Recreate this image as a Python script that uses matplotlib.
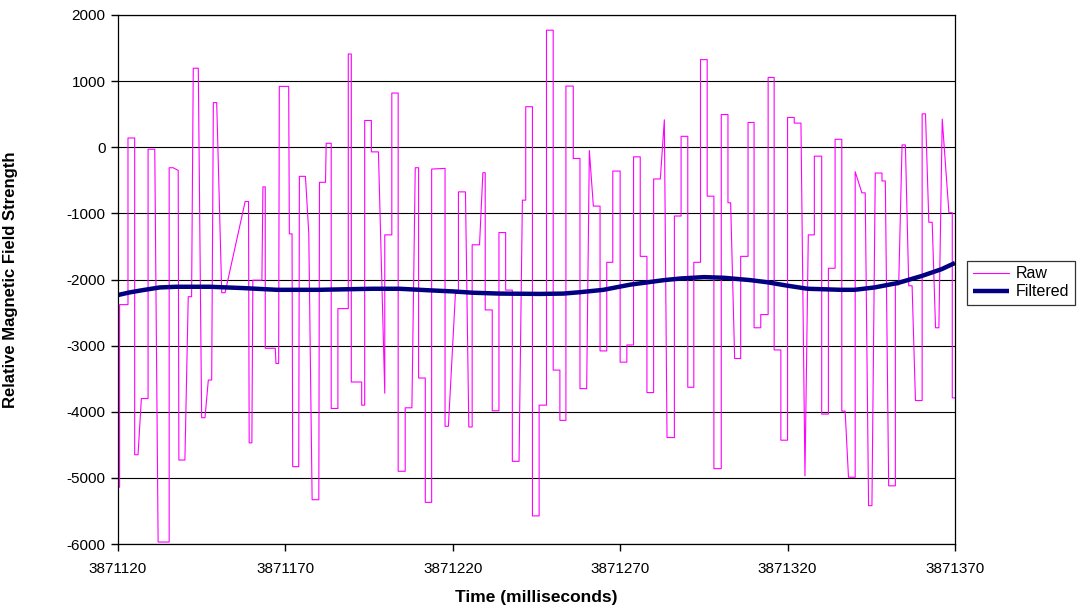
import matplotlib
matplotlib.use("Agg")
import matplotlib.pyplot as plt
from matplotlib.ticker import FuncFormatter

plt.rcParams["font.family"] = ["Liberation Sans", "DejaVu Sans"]
plt.rcParams["axes.unicode_minus"] = False

t0 = 3871120

# raw signal vertices: (time offset in ms, value)
raw_t = [0, 0.5, 0.5, 3, 3, 5, 5, 6, 7, 9, 9, 11, 12, 15.3, 15.3, 16.5, 18, 18.2, 20, 21,
         22, 22.5, 24, 25, 26, 27, 28, 28.5, 29.5, 31, 32, 38, 39, 39.2, 40, 40.3, 43, 43.3,
         44, 44, 47, 47.2, 48, 48.2, 51, 51.2, 52, 52.2, 54, 54.2, 56, 57, 58, 60, 60.2, 62,
         62.2, 63.7, 63.7, 65.7, 65.7, 68.8, 68.8, 69.7, 69.7, 72.8, 72.8, 73.7, 73.7, 75.7,
         75.7, 77.8, 79.7, 79.7, 81.8, 81.8, 83.7, 83.7, 85.8, 85.8, 87.8, 88.8, 89.8, 89.8,
         91.8, 91.8, 93.7, 93.7, 97.7, 97.7, 98.7, 100.8, 101.7, 101.7, 103.8, 104.8, 105.8,
         105.8, 108, 109, 109.7, 109.7, 111.8, 111.8, 113.8, 113.8, 115.8, 115.8, 117.8, 117.8,
         119.8, 120.8, 121.8, 121.8, 123.8, 123.8, 125.8, 125.8, 128, 128, 130, 130, 132, 132,
         133.8, 133.8, 136, 136, 138, 138, 140, 140.8, 142, 144, 144, 146, 146, 147.8, 147.8,
         150, 150, 152, 152, 154, 154, 156, 156, 158, 158, 160, 160, 162, 163.2, 164, 166.2,
         166.2, 168.2, 168.2, 170.2, 170.2, 172, 172, 174, 174, 176, 176, 178, 178, 180.2,
         180.2, 182.2, 182.2, 183, 184.2, 186, 186, 188.2, 188.2, 190, 190, 192, 192, 194.2,
         194.2, 196, 196, 198, 198, 200, 200, 202, 202, 204, 205.2, 206.2, 208, 208, 210.2,
         210.2, 212.2, 212.2, 214.2, 214.2, 216.2, 216.2, 217.2, 218.2, 220.2, 220.2, 222.2,
         223.2, 224.2, 225.2, 226.2, 228.2, 228.2, 229.2, 230.2, 232.2, 232.2, 233.2, 234.2,
         235.2, 236.2, 237.2, 238.2, 240.2, 240.2, 241.2, 242.2, 243.2, 244.2, 245.2, 246.2,
         248.2, 249.2, 249.2, 250]
raw_v = [-5140, -5140, -2380, -2380, 140, 140, -4650, -4650, -3800, -3800, -30, -30, -5970,
         -5970, -310, -310, -350, -4730, -4730, -2260, -2260, 1195, 1195, -4090, -4090, -3520,
         -3520, 675, 675, -2200, -2200, -820, -820, -4470, -4470, -2010, -2010, -600, -600,
         -3040, -3040, -3270, -3270, 920, 920, -1310, -1310, -4830, -4830, -440, -440, -1300,
         -5330, -5330, -530, -530, 60, 60, -3950, -3950, -2440, -2440, 1410, 1410, -3550,
         -3550, -3900, -3900, 405, 405, -70, -70, -3720, -1325, -1325, 820, 820, -4900, -4900,
         -3940, -3940, -310, -310, -3490, -3490, -5370, -5370, -330, -320, -4220, -4220, -2210,
         -2210, -675, -675, -4230, -4230, -1475, -1475, -385, -385, -2460, -2460, -3985, -3985,
         -1290, -1290, -2160, -2160, -4750, -4750, -800, -800, 613, 613, -5575, -5575, -3900,
         -3900, 1770, 1770, -3370, -3370, -4130, -4130, 925, 925, -170, -170, -3650, -3650,
         -50, -890, -890, -3080, -3080, -1740, -1740, -360, -360, -3250, -3250, -2990, -2990,
         -145, -145, -1650, -1650, -3710, -3710, -480, -480, 415, -4390, -4390, -1040, -1040,
         165, 165, -3630, -3630, -1740, -1740, 1325, 1325, -740, -740, -4860, -4860, 495, 495,
         -840, -840, -3195, -3195, -1650, -1650, 375, 375, -2730, -2730, -2530, -2530, 1055,
         1055, -3065, -3065, -4430, -4430, 450, 450, 365, 365, -4970, -1325, -1325, -135, -135,
         -4035, -4035, -1830, -1830, 120, 120, -3990, -3990, -4990, -4990, -370, -690, -690,
         -5420, -5420, -390, -390, -510, -510, -5120, -5120, -2080, -2080, 35, 35, -2095,
         -2095, -3830, -3830, 505, 505, -1135, -1135, -2730, -2730, 425, -990, -990, -3790,
         -3790]

# filtered signal
filt_t = [0, 3.5, 7.5, 12.5, 17.5, 27.5, 32.5, 37.5, 47.5, 60, 76, 84, 94, 100, 106, 114,
          126, 133, 138, 145, 153, 163, 168, 175, 181, 189, 194, 200, 206, 216, 220, 226,
          233, 240, 246, 250]
filt_v = [-2235, -2195, -2160, -2120, -2110, -2110, -2120, -2130, -2156, -2156, -2140, -2140,
          -2166, -2180, -2200, -2213, -2218, -2213, -2192, -2156, -2078, -2010, -1985, -1964,
          -1974, -2010, -2042, -2094, -2140, -2156, -2156, -2120, -2052, -1948, -1844, -1750]

x_ticks = [3871120, 3871170, 3871220, 3871270, 3871320, 3871370]
y_ticks = [2000, 1000, 0, -1000, -2000, -3000, -4000, -5000, -6000]

fig = plt.figure(figsize=(10.92, 6.09), dpi=100)
ax = fig.add_axes([0.108, 0.1067, 0.7665, 0.8687])

ax.plot([t0 + t for t in raw_t], raw_v, color="#FF00FF", lw=0.8, label="Raw")
ax.plot([t0 + t for t in filt_t], filt_v, color="#000080", lw=3.2, label="Filtered",
        solid_capstyle="butt")

ax.set_xlim(x_ticks[0], x_ticks[-1])
ax.set_ylim(-6000, 2000)
ax.set_xticks(x_ticks)
ax.set_yticks(y_ticks)
ax.xaxis.set_major_formatter(FuncFormatter(lambda v, p: "%d" % v))
ax.yaxis.set_major_formatter(FuncFormatter(lambda v, p: "%d" % v))
ax.tick_params(direction="out", length=5, width=1, labelsize=11, pad=4)
ax.tick_params(axis="x", pad=8)

ax.grid(axis="y", color="black", lw=0.8)
ax.set_axisbelow(True)
for s in ax.spines.values():
    s.set_linewidth(0.9)

ax.set_xlabel("Time (milliseconds)", fontsize=12.5, fontweight="bold")
ax.xaxis.set_label_coords(0.5, -0.086)
ax.set_ylabel("Relative Magnetic Field Strength", fontsize=12, fontweight="bold")
ax.yaxis.set_label_coords(-0.1195, 0.5)

leg = ax.legend(loc="upper left", bbox_to_anchor=(0.8855, 0.572), bbox_transform=fig.transFigure,
                fontsize=11.5, frameon=True, fancybox=False, borderaxespad=0,
                handlelength=2.3, handletextpad=0.4, borderpad=0.35, labelspacing=0.2)
leg.get_frame().set_edgecolor("black")
leg.get_frame().set_linewidth(0.9)

fig.savefig("out.png", dpi=100)
